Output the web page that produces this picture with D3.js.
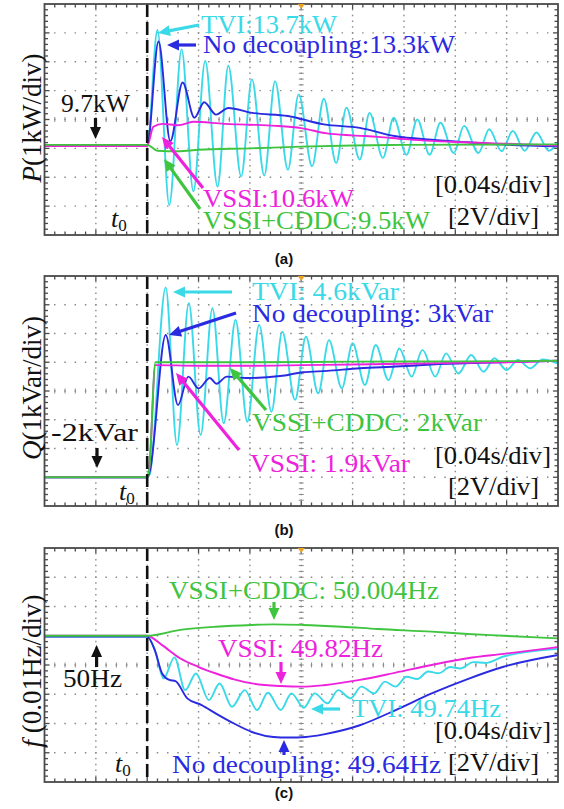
<!DOCTYPE html>
<html><head><meta charset="utf-8">
<script src="https://cdn.jsdelivr.net/npm/d3@7/dist/d3.min.js"></script>
<style>body{margin:0;background:#fff}svg{display:block}</style>
</head><body>
<svg id="chart" width="564" height="809"></svg>
<script>
// ---------- DATA (time in ms, 40 ms/div; t0 = 80 ms) ----------
const timeTicks = [0,40,80,120,160,200,240,280,320,360,400];

// (a) Active power P, kW
const pTVI = [[0,9.7],[80,9.7],[88,13.7],[97.2,7.64],[106.8,13.03],[116,8.11],[125.2,12.63],[134.8,8.28],[143.2,12.46],[153.2,8.63],[161.6,11.99],[171.2,8.66],[179.6,11.93],[189.6,8.86],[198,11.47],[208.4,8.98],[217.6,11.32],[227.2,9.09],[235.2,11.01],[245.6,9.21],[253.2,10.83],[263.6,9.27],[272,10.66],[282,9.38],[290.4,10.6],[300,9.38],[308.4,10.49],[318.8,9.44],[326.8,10.38],[338,9.44],[346.4,10.26],[356,9.5],[364.8,10.2],[374,9.52],[383.2,10.15],[392.8,9.52],[400,9.8]];
const pNoDec = [[0,9.7],[80,9.7],[88.8,13.3],[98,9.85],[107.6,11.88],[116.8,10.66],[124.4,11.2],[133.6,10.77],[143.2,11.0],[161.6,10.83],[189.6,10.72],[217.6,10.43],[245.6,10.31],[273.6,10.02],[301.6,9.9],[329.6,9.81],[357.6,9.73],[400,9.67]];
const pVSSI = [[0,9.68],[80,9.68],[84.8,10.35],[92,10.45],[104,10.4],[116,10.52],[140,10.45],[160,10.42],[180,10.38],[200,10.3],[220,10.12],[240,10.05],[260,10.0],[280,9.92],[320,9.82],[360,9.76],[400,9.7]];
const pCDDC = [[0,9.72],[80,9.72],[88,9.52],[104,9.5],[120,9.55],[160,9.6],[200,9.66],[240,9.7],[280,9.72],[400,9.74]];

// (b) Reactive power Q, kVar
const qTVI = [[0,-2],[80,-2],[82,-1.9],[94.4,4.6],[103.2,-0.88],[112.4,4.05],[121.6,-0.53],[130.8,3.88],[139.6,-0.12],[148.8,3.47],[158,-0.07],[167.2,3.3],[176.8,0.28],[185.2,3.06],[195.2,0.69],[203.6,2.89],[213.2,0.92],[221.6,2.77],[231.6,1.09],[240,2.66],[249.6,1.21],[258,2.6],[268,1.38],[276.4,2.48],[286,1.5],[294.4,2.43],[304.4,1.5],[312.8,2.31],[322.4,1.61],[332.4,2.25],[342,1.67],[350.4,2.14],[360,1.73],[368.8,2.08],[378.4,1.79],[388,2.1],[400,1.95]];
const qNoDec = [[0,-2],[80,-2],[82,-1.8],[94.4,2.95],[104,0.51],[112,1.5],[120,1.09],[128.8,1.45],[134,1.25],[142,1.5],[157.6,1.45],[183.6,1.52],[201.2,1.65],[220,1.7],[245.6,1.79],[273.6,1.85],[301.6,1.92],[340,1.98],[400,2.05]];
const qVSSI = [[0,-2],[80,-2],[81.6,-1.7],[86.4,1.9],[120,1.88],[160,1.88],[200,1.9],[240,1.92],[280,1.95],[320,1.98],[360,2.0],[400,2.05]];
const qCDDC = [[0,-2],[80,-2],[81.6,-1.7],[86.4,2.0],[160,2.0],[240,2.02],[320,2.03],[400,2.05]];

// (c) Frequency f, Hz
const fTVI = [[0,49.997],[80,49.997],[86,49.95],[92.8,49.854],[101.2,49.926],[109.6,49.814],[118,49.871],[128,49.78],[136.4,49.837],[146,49.757],[156,49.814],[165.6,49.746],[174,49.805],[184,49.746],[192.4,49.803],[202,49.754],[210.4,49.803],[220.4,49.769],[228.8,49.814],[238.4,49.786],[246.8,49.826],[256.8,49.803],[265.2,49.843],[273.6,49.826],[282,49.86],[290.4,49.852],[298.8,49.878],[307.2,49.872],[316,49.893],[324,49.888],[334,49.91],[344,49.907],[357.6,49.929],[400,49.955]];
const fNoDec = [[0,49.997],[80,49.997],[86,49.95],[91.6,49.871],[97.2,49.849],[102,49.845],[111.2,49.786],[122.4,49.763],[133.6,49.734],[147.6,49.7],[161.6,49.671],[178.4,49.654],[189.6,49.652],[203.6,49.654],[217.6,49.663],[245.6,49.694],[273.6,49.746],[301.6,49.803],[329.6,49.852],[357.6,49.894],[400,49.934]];
const fVSSI = [[0,50.0],[80,50.0],[91.6,49.968],[105.6,49.923],[119.6,49.894],[133.6,49.871],[147.6,49.851],[161.6,49.837],[184,49.828],[200.8,49.826],[217.6,49.831],[245.6,49.849],[273.6,49.874],[301.6,49.9],[329.6,49.923],[357.6,49.938],[400,49.961]];
const fCDDC = [[0,50.0],[80,50.0],[105.6,50.02],[133.6,50.031],[161.6,50.037],[178.4,50.039],[200.8,50.037],[231.6,50.031],[259.6,50.023],[301.6,50.014],[329.6,50.006],[357.6,50.0],[400,49.991]];

const seriesNames = ["TVI","No decoupling","VSSI","VSSI+CDDC"];

// ---------- STYLE / LAYOUT ----------
const COL = {TVI:"#3ad9e8", ND:"#2a2ae0", VSSI:"#ee22dd", CDDC:"#3fc43f", frame:"#4a4a4a", grid:"#8a8a8a"};
const SERIF = "'Liberation Serif','Times New Roman',serif";
const FS = 25;
const X0 = 44.5, X1 = 558;
const x = d3.scaleLinear().domain([0,400]).range([X0,X1]);
const svg = d3.select("#chart");

const panels = [
  {top:4, bottom:235, dom:[6.6,14.6], data:[[pTVI,COL.TVI],[pNoDec,COL.ND],[pVSSI,COL.VSSI],[pCDDC,COL.CDDC]],
   ylab:[["P",true],["(1kW/div)",false]], ylabY:118, cap:"(a)", capY:264, t0:[111,227]},
  {top:276, bottom:506, dom:[-3,5], data:[[qTVI,COL.TVI],[qNoDec,COL.ND],[qVSSI,COL.VSSI],[qCDDC,COL.CDDC]],
   ylab:[["Q",true],["(1kVar/div)",false]], ylabY:388, cap:"(b)", capY:535, t0:[119,500]},
  {top:548, bottom:782, dom:[49.5,50.3], data:[[fTVI,COL.TVI],[fVSSI,COL.VSSI],[fNoDec,COL.ND],[fCDDC,COL.CDDC]],
   ylab:[["f",true],[" (0.01Hz/div)",false]], ylabY:671, cap:"(c)", capY:798, t0:[115,772]}
];

function arrow(g, x1,y1,x2,y2,color){
  const L=12, W=5.5, dx=x2-x1, dy=y2-y1, len=Math.hypot(dx,dy), ux=dx/len, uy=dy/len;
  const bx=x2-ux*L, by=y2-uy*L;
  g.append("line").attr("x1",x1).attr("y1",y1).attr("x2",bx+ux*1).attr("y2",by+uy*1)
    .attr("stroke",color).attr("stroke-width",3.2);
  g.append("path").attr("d",`M${x2},${y2}L${bx-uy*W},${by+ux*W}L${bx+uy*W},${by-ux*W}Z`).attr("fill",color);
}
function label(g, txt, xx, yy, color, w){
  const t = g.append("text").attr("x",xx).attr("y",yy).attr("fill",color)
    .attr("font-family",SERIF).attr("font-size",FS).text(txt);
  if (w) t.attr("textLength",w).attr("lengthAdjust","spacingAndGlyphs");
  return t;
}

panels.forEach(p=>{
  const y = d3.scaleLinear().domain(p.dom).range([p.bottom,p.top]);
  const g = svg.append("g");
  const divY = (p.bottom-p.top)/8, divX = (X1-X0)/10;
  const yStep = (p.dom[1]-p.dom[0])/8;
  const yTicks = d3.range(1,8).map(i=>p.dom[0]+i*yStep);
  const xTicks = timeTicks.slice(1,-1);
  g.selectAll(".hg").data(yTicks).enter().append("line")
    .attr("x1",X0).attr("x2",X1).attr("y1",d=>y(d)).attr("y2",d=>y(d))
    .attr("stroke",COL.grid).attr("stroke-width",1.4)
    .attr("stroke-dasharray",`1.5 ${divX/5-1.5}`).attr("stroke-dashoffset",0.75);
  g.selectAll(".vg").data(xTicks).enter().append("line")
    .attr("x1",d=>x(d)).attr("x2",d=>x(d)).attr("y1",p.top).attr("y2",p.bottom)
    .attr("stroke",COL.grid).attr("stroke-width",1.4)
    .attr("stroke-dasharray",`1.5 ${divY/5-1.5}`).attr("stroke-dashoffset",0.75);
  const cx = x(200), cy = y(p.dom[0]+4*yStep);
  d3.range(1,40).forEach(i=>{
    const yy = p.top + i*divY/5;
    g.append("line").attr("x1",cx-2.5).attr("x2",cx+2.5).attr("y1",yy).attr("y2",yy).attr("stroke",COL.grid).attr("stroke-width",1);
  });
  d3.range(1,50).forEach(i=>{
    const xx = X0 + i*divX/5;
    g.append("line").attr("x1",xx).attr("x2",xx).attr("y1",cy-2.5).attr("y2",cy+2.5).attr("stroke",COL.grid).attr("stroke-width",1);
  });
  d3.range(1,50).forEach(i=>{
    const xx = X0 + i*divX/5, l = (i%5===0)?5:3.5;
    g.append("line").attr("x1",xx).attr("x2",xx).attr("y1",p.top).attr("y2",p.top+l).attr("stroke",COL.frame).attr("stroke-width",1.3);
    g.append("line").attr("x1",xx).attr("x2",xx).attr("y1",p.bottom).attr("y2",p.bottom-l).attr("stroke",COL.frame).attr("stroke-width",1.3);
  });
  d3.range(1,40).forEach(i=>{
    const yy = p.top + i*divY/5, l = (i%5===0)?5:3.5;
    g.append("line").attr("x1",X0).attr("x2",X0+l).attr("y1",yy).attr("y2",yy).attr("stroke",COL.frame).attr("stroke-width",1.3);
    g.append("line").attr("x1",X1).attr("x2",X1-l).attr("y1",yy).attr("y2",yy).attr("stroke",COL.frame).attr("stroke-width",1.3);
  });
  const line = d3.line().x(d=>x(d[0])).y(d=>y(d[1])).curve(d3.curveMonotoneX);
  p.data.forEach(([arr,c])=>{
    g.append("path").attr("d",line(arr)).attr("fill","none").attr("stroke",c).attr("stroke-width",1.9).attr("stroke-linejoin","round");
  });
  g.append("line").attr("x1",x(80)).attr("x2",x(80)).attr("y1",p.top).attr("y2",p.bottom)
    .attr("stroke","#111").attr("stroke-width",2.6).attr("stroke-dasharray","13 5");
  g.append("rect").attr("x",X0).attr("y",p.top).attr("width",X1-X0).attr("height",p.bottom-p.top)
    .attr("fill","none").attr("stroke",COL.frame).attr("stroke-width",1.8);
  g.append("path").attr("d",`M${cx-3.5},${p.top}L${cx+3.5},${p.top}L${cx},${p.top+5}Z`).attr("fill","#f0a020");
  const yl = g.append("text").attr("transform",`translate(41,${p.ylabY}) rotate(-90)`)
    .attr("text-anchor","middle").attr("font-family",SERIF).attr("font-size",27).attr("fill","#111");
  p.ylab.forEach(([s,it])=>yl.append("tspan").attr("font-style",it?"italic":"normal").text(s));
  const t = g.append("text").attr("x",p.t0[0]).attr("y",p.t0[1]).attr("font-family",SERIF).attr("font-size",26).attr("fill","#111");
  t.append("tspan").attr("font-style","italic").text("t");
  t.append("tspan").attr("font-size",17).attr("dy",4).text("0");
  g.append("text").attr("x",284).attr("y",p.capY).attr("text-anchor","middle")
    .attr("font-family","'Liberation Sans',Arial,sans-serif").attr("font-weight","bold").attr("font-size",15).attr("fill","#111").text(p.cap);
});

// ---------- ANNOTATIONS ----------
const A = svg.append("g");
// (a)
label(A,"TVI:13.7kW",201,33,COL.TVI,136);
label(A,"No decoupling:13.3kW",203,53,COL.ND,252);
label(A,"9.7kW",61,112,"#111",69);
label(A,"VSSI:10.6kW",203,207,COL.VSSI,151);
label(A,"VSSI+CDDC:9.5kW",203,229,COL.CDDC,227);
label(A,"[0.04s/div]",435,193,"#111",116);
label(A,"[2V/div]",448,225,"#111",91);
arrow(A,199,25,158,33,COL.TVI);
arrow(A,196,45,167,45,COL.ND);
arrow(A,95.5,118,95.5,139,"#111");
arrow(A,203,188,162,137,COL.VSSI);
arrow(A,200,209,164,159,COL.CDDC);
// (b)
label(A,"TVI: 4.6kVar",252,300,COL.TVI,147);
label(A,"No decoupling: 3kVar",252,322,COL.ND,241);
label(A,"VSSI+CDDC: 2kVar",252,431,COL.CDDC,230);
label(A,"VSSI: 1.9kVar",250,472,COL.VSSI,160);
label(A,"-2kVar",51,441,"#111",87);
label(A,"[0.04s/div]",435,464,"#111",116);
label(A,"[2V/div]",448,495,"#111",91);
arrow(A,232,292,173,292,COL.TVI);
arrow(A,236,313,169,335,COL.ND);
arrow(A,266,410,230,368,COL.CDDC);
arrow(A,239,450,176,373,COL.VSSI);
arrow(A,97,448,97,468,"#111");
// (c)
label(A,"VSSI+CDDC: 50.004Hz",169,599,COL.CDDC,270);
label(A,"VSSI: 49.82Hz",218,657,COL.VSSI,165);
label(A,"TVI: 49.74Hz",352,717,COL.TVI,149);
label(A,"[0.04s/div]",435,739,"#111",116);
label(A,"No decoupling: 49.64Hz",172,773,COL.ND,269);
label(A,"[2V/div]",448,771,"#111",91);
label(A,"50Hz",63,687,"#111",59);
arrow(A,274,602,274,620,COL.CDDC);
arrow(A,281,662,281,684,COL.VSSI);
arrow(A,340,709,311,709,COL.TVI);
arrow(A,284,755,284,740,COL.ND);
arrow(A,96.6,667,96.6,645,"#111");
</script>
</body></html>
